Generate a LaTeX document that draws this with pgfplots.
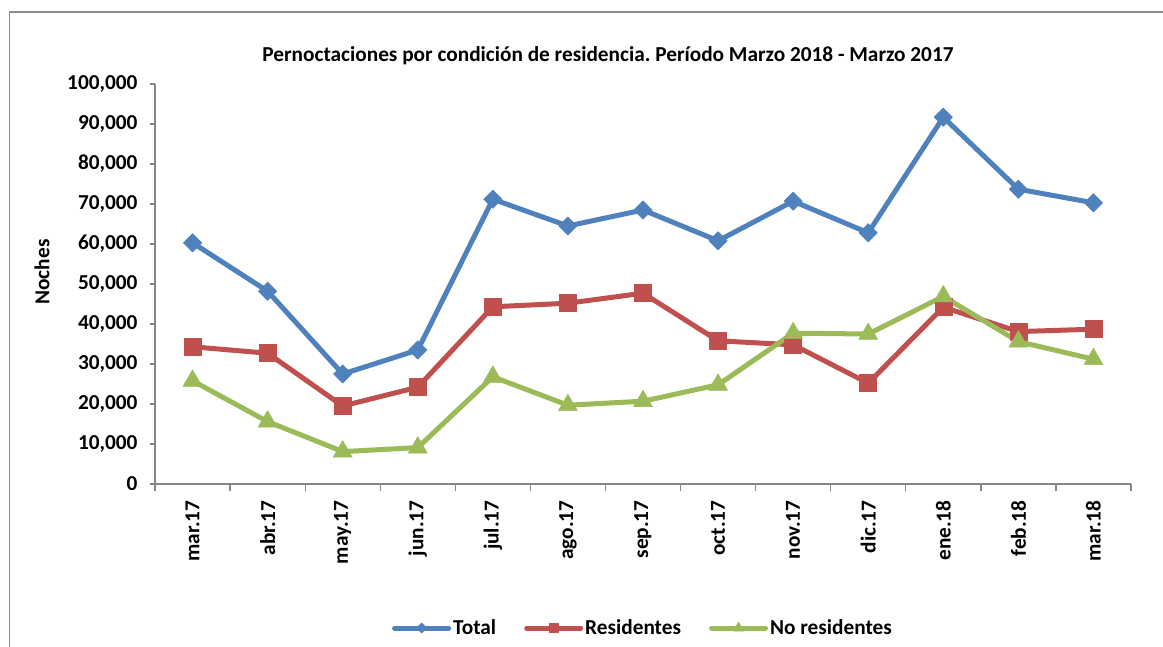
\documentclass[border=0pt]{standalone}
\usepackage{fontspec}
\setmainfont{Carlito}
\usepackage{pgfplots}
\pgfplotsset{compat=1.18}
\frenchspacing
\definecolor{cTotal}{HTML}{4F81BD}
\definecolor{cRes}{HTML}{C0504D}
\definecolor{cNoRes}{HTML}{9BBB59}
\definecolor{axisgray}{HTML}{868686}
\definecolor{framegray}{HTML}{8C8C8C}
\newcommand{\ff}{\fontsize{21.3}{25}\selectfont\bfseries}
\begin{document}
\begin{tikzpicture}[x=1pt,y=1pt]
\useasboundingbox (0,0) rectangle (1163,646);
\draw[framegray, line width=1.2pt] (9.5,-10) -- (9.5,634) -- (1175,634);
\node[font=\ff, anchor=center] at (608,590) {Pernoctaciones por condición de residencia. Período Marzo 2018 - Marzo 2017};
\node[font=\ff, rotate=90, anchor=center] at (42,374) {Noches};
\begin{axis}[
  at={(155pt,162pt)}, anchor=south west,
  scale only axis, width=976pt, height=400pt,
  xmin=-0.5, xmax=12.5, ymin=0, ymax=100000,
  axis x line*=bottom, axis y line*=left,
  axis line style={draw=axisgray, line width=1.3pt, -},
  xtick={0,...,12},
  xticklabels={mar.17,abr.17,may.17,jun.17,jul.17,ago.17,sep.17,oct.17,nov.17,dic.17,ene.18,feb.18,mar.18},
  major x tick style={draw=none},
  minor xtick={-0.5,0.5,...,12.5},
  minor tick length=7pt, major tick length=5pt,
  tick align=outside,
  ytick={0,10000,...,100000},
  tick style={draw=axisgray, line width=1.3pt},
  scaled y ticks=false,
  yticklabel style={font=\ff, xshift=-9pt, /pgf/number format/.cd, fixed, 1000 sep={,}, assume math mode=true},
  xticklabel style={font=\ff, yshift=-8pt, rotate=90, anchor=east},
  line join=round,
  legend style={at={(0.5,-0.36)}, anchor=center, draw=none, font=\ff, legend columns=3,
    /tikz/every even column/.append style={column sep=26pt}},
  legend image code/.code={
    \draw[#1, line cap=round, every mark/.append style={scale=0.55}, mark repeat=2, mark phase=2] plot coordinates {(0pt,0pt) (27pt,0pt) (54pt,0pt)};
  },
]
\addplot[cTotal, line width=5pt, mark=square*, mark size=6.5pt, mark options={rotate=45, line width=0.5pt}] coordinates {
(0,60300) (1,48200) (2,27500) (3,33500) (4,71200) (5,64500) (6,68500) (7,60800) (8,70700) (9,62800) (10,91700) (11,73700) (12,70300)};
\addlegendentry{Total}
\addplot[cRes, line width=5pt, mark=square*, mark size=8.5pt, mark options={line width=0.5pt}] coordinates {
(0,34300) (1,32700) (2,19500) (3,24200) (4,44300) (5,45200) (6,47700) (7,35800) (8,34800) (9,25200) (10,44200) (11,38100) (12,38700)};
\addlegendentry{Residentes}
\addplot[cNoRes, line width=5pt, mark=triangle*, mark size=11pt, mark options={line width=0.5pt}] coordinates {
(0,25800) (1,15600) (2,8100) (3,9100) (4,26800) (5,19700) (6,20700) (7,24800) (8,37700) (9,37500) (10,46900) (11,35600) (12,31200)};
\addlegendentry{No residentes}
\end{axis}
\end{tikzpicture}
\end{document}
